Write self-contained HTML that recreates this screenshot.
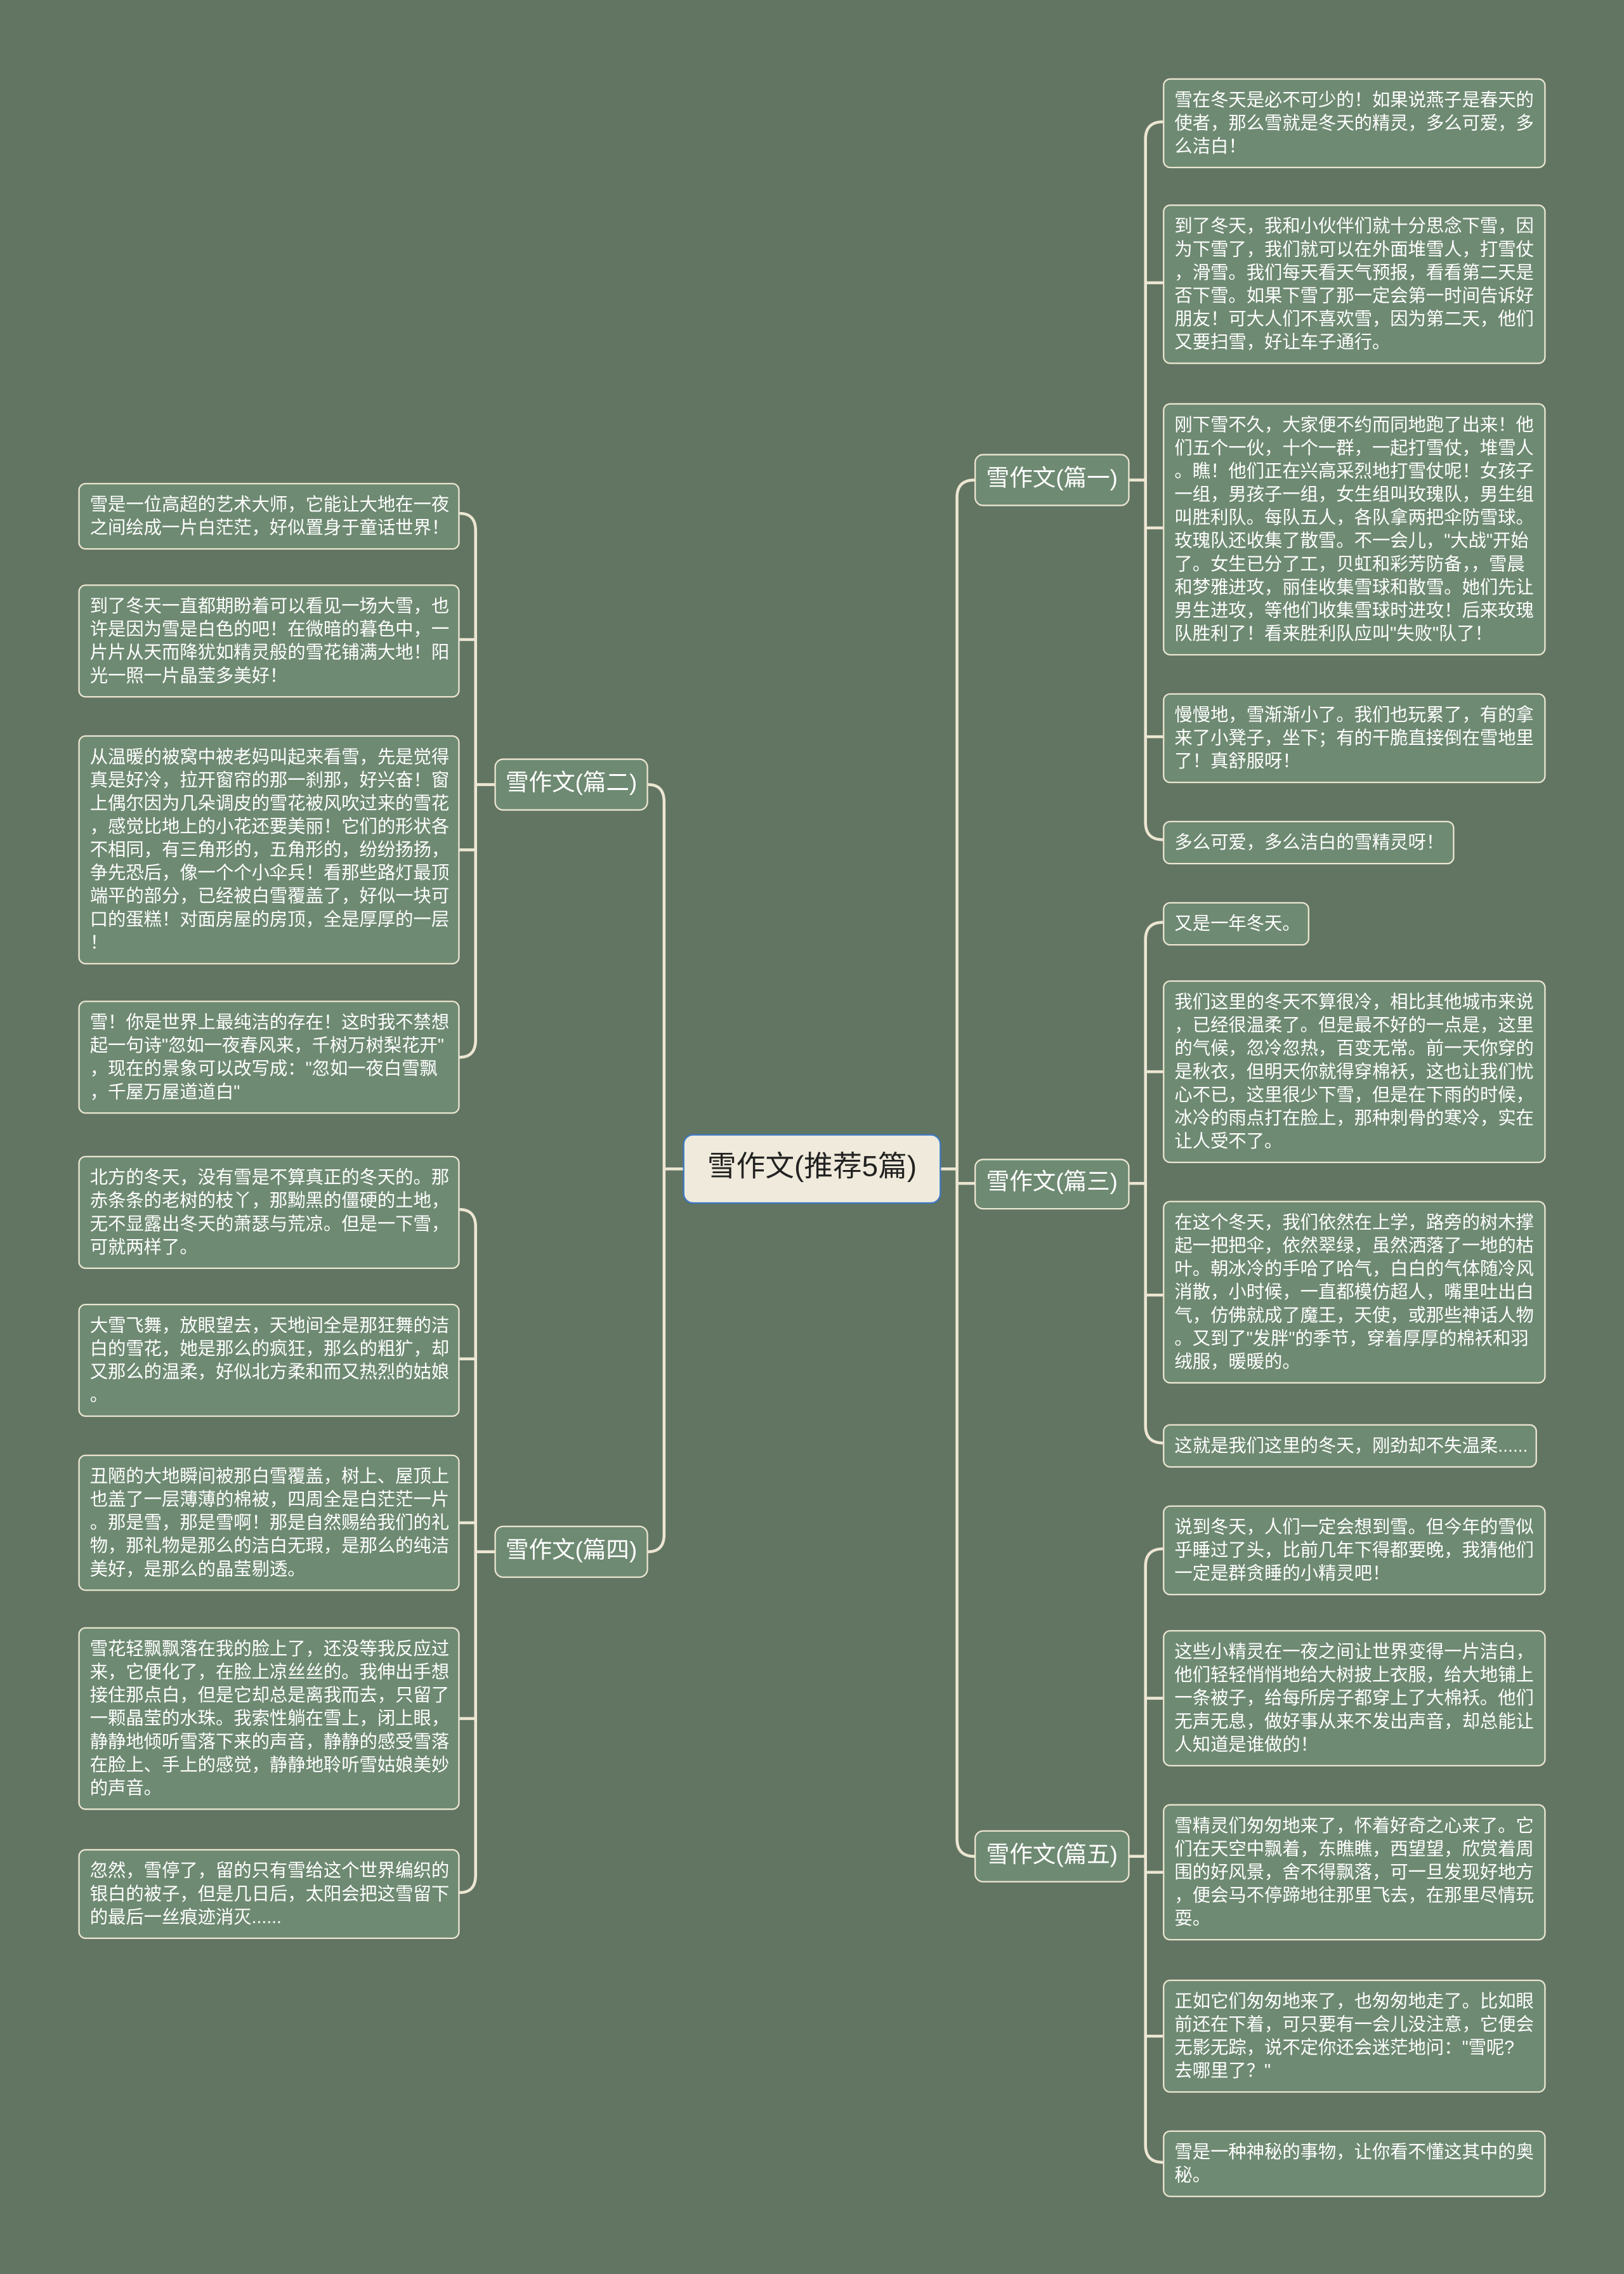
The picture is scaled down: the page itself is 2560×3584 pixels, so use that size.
<!DOCTYPE html>
<html><head><meta charset="utf-8">
<style>
html,body{margin:0;padding:0;background:#627562;}
body{width:2560px;height:3583px;overflow:hidden;position:relative;}
#s{position:absolute;left:0;top:0;width:1120px;height:1568px;transform:scale(2.285714);transform-origin:0 0;font-family:"Liberation Sans","Noto Sans CJK SC",sans-serif;}
.l{position:absolute;background:#6e8a72;border:1px solid #ece6d2;border-radius:5px;color:#fff;font-size:12.4px;line-height:16px;padding:6px 7px 6px 7px;box-sizing:border-box;white-space:nowrap;}
.b{position:absolute;background:#6e8a72;border:1.5px solid #ece6d2;border-radius:6px;color:#fff;font-size:16px;box-sizing:border-box;text-align:center;}
.r{position:absolute;left:471px;top:782px;width:178px;height:48px;background:#efeadb;border:1.5px solid #3b78c4;border-radius:7px;color:#222;font-size:20px;line-height:45px;text-align:center;box-sizing:border-box;}
svg{position:absolute;left:0;top:0;}
</style></head><body><div id="s">
<svg width="1120" height="1568" fill="none" stroke="#ece6d2" stroke-width="2">
<path d="M649,806 L660,806"/>
<path d="M672,331 Q660,331 660,343 L660,1268 Q660,1280 672,1280"/>
<path d="M660,816 L672,816"/>
<path d="M471,806 L458,806"/>
<path d="M447,541 Q458,541 458,553 L458,1058 Q458,1070 447,1070"/>
<path d="M779,331 L790,331 M802,84 Q790,84 790,96 L790,567 Q790,579 802,579 M790,195 L802,195 M790,364 L802,364 M790,508 L802,508"/>
<path d="M779,816 L790,816 M802,636 Q790,636 790,648 L790,983 Q790,995 802,995 M790,739 L802,739 M790,893 L802,893"/>
<path d="M779,1280 L790,1280 M802,1068 Q790,1068 790,1080 L790,1479 Q790,1491 802,1491 M790,1171 L802,1171 M790,1291 L802,1291 M790,1404 L802,1404"/>
<path d="M341,541 L328,541 M317,354 Q328,354 328,366 L328,717 Q328,729 317,729 M328,441 L317,441 M328,586 L317,586"/>
<path d="M341,1070 L328,1070 M317,834 Q328,834 328,846 L328,1293 Q328,1305 317,1305 M328,937 L317,937 M328,1050 L317,1050 M328,1185 L317,1185"/>
</svg>
<div class="r">雪作文(推荐5篇)</div>
<div class="b" style="left:672px;top:313px;width:107px;height:36px;line-height:33px">雪作文(篇一)</div>
<div class="b" style="left:672px;top:799px;width:107px;height:35px;line-height:32px">雪作文(篇三)</div>
<div class="b" style="left:672px;top:1262px;width:107px;height:36px;line-height:33px">雪作文(篇五)</div>
<div class="b" style="left:341px;top:523px;width:106px;height:36px;line-height:33px">雪作文(篇二)</div>
<div class="b" style="left:341px;top:1052px;width:106px;height:36px;line-height:33px">雪作文(篇四)</div>

<div class="l" style="left:802px;top:54px;width:264px">雪在冬天是必不可少的！如果说燕子是春天的<br>使者，那么雪就是冬天的精灵，多么可爱，多<br>么洁白！</div>
<div class="l" style="left:802px;top:141px;width:264px">到了冬天，我和小伙伴们就十分思念下雪，因<br>为下雪了，我们就可以在外面堆雪人，打雪仗<br>，滑雪。我们每天看天气预报，看看第二天是<br>否下雪。如果下雪了那一定会第一时间告诉好<br>朋友！可大人们不喜欢雪，因为第二天，他们<br>又要扫雪，好让车子通行。</div>
<div class="l" style="left:802px;top:278px;width:264px">刚下雪不久，大家便不约而同地跑了出来！他<br>们五个一伙，十个一群，一起打雪仗，堆雪人<br>。瞧！他们正在兴高采烈地打雪仗呢！女孩子<br>一组，男孩子一组，女生组叫玫瑰队，男生组<br>叫胜利队。每队五人，各队拿两把伞防雪球。<br>玫瑰队还收集了散雪。不一会儿，"大战"开始<br>了。女生已分了工，贝虹和彩芳防备，，雪晨<br>和梦雅进攻，丽佳收集雪球和散雪。她们先让<br>男生进攻，等他们收集雪球时进攻！后来玫瑰<br>队胜利了！看来胜利队应叫"失败"队了！</div>
<div class="l" style="left:802px;top:478px;width:264px">慢慢地，雪渐渐小了。我们也玩累了，有的拿<br>来了小凳子，坐下；有的干脆直接倒在雪地里<br>了！真舒服呀！</div>
<div class="l" style="left:802px;top:566px;width:201px">多么可爱，多么洁白的雪精灵呀！</div>

<div class="l" style="left:802px;top:622px;width:101px">又是一年冬天。</div>
<div class="l" style="left:802px;top:676px;width:264px">我们这里的冬天不算很冷，相比其他城市来说<br>，已经很温柔了。但是最不好的一点是，这里<br>的气候，忽冷忽热，百变无常。前一天你穿的<br>是秋衣，但明天你就得穿棉袄，这也让我们忧<br>心不已，这里很少下雪，但是在下雨的时候，<br>冰冷的雨点打在脸上，那种刺骨的寒冷，实在<br>让人受不了。</div>
<div class="l" style="left:802px;top:828px;width:264px">在这个冬天，我们依然在上学，路旁的树木撑<br>起一把把伞，依然翠绿，虽然洒落了一地的枯<br>叶。朝冰冷的手哈了哈气，白白的气体随冷风<br>消散，小时候，一直都模仿超人，嘴里吐出白<br>气，仿佛就成了魔王，天使，或那些神话人物<br>。又到了"发胖"的季节，穿着厚厚的棉袄和羽<br>绒服，暖暖的。</div>
<div class="l" style="left:802px;top:982px;width:258px">这就是我们这里的冬天，刚劲却不失温柔......</div>

<div class="l" style="left:802px;top:1038px;width:264px">说到冬天，人们一定会想到雪。但今年的雪似<br>乎睡过了头，比前几年下得都要晚，我猜他们<br>一定是群贪睡的小精灵吧！</div>
<div class="l" style="left:802px;top:1124px;width:264px">这些小精灵在一夜之间让世界变得一片洁白，<br>他们轻轻悄悄地给大树披上衣服，给大地铺上<br>一条被子，给每所房子都穿上了大棉袄。他们<br>无声无息，做好事从来不发出声音，却总能让<br>人知道是谁做的！</div>
<div class="l" style="left:802px;top:1244px;width:264px">雪精灵们匆匆地来了，怀着好奇之心来了。它<br>们在天空中飘着，东瞧瞧，西望望，欣赏着周<br>围的好风景，舍不得飘落，可一旦发现好地方<br>，便会马不停蹄地往那里飞去，在那里尽情玩<br>耍。</div>
<div class="l" style="left:802px;top:1365px;width:264px">正如它们匆匆地来了，也匆匆地走了。比如眼<br>前还在下着，可只要有一会儿没注意，它便会<br>无影无踪，说不定你还会迷茫地问："雪呢?<br>去哪里了？"</div>
<div class="l" style="left:802px;top:1469px;width:264px">雪是一种神秘的事物，让你看不懂这其中的奥<br>秘。</div>

<div class="l" style="left:54px;top:333px;width:263px">雪是一位高超的艺术大师，它能让大地在一夜<br>之间绘成一片白茫茫，好似置身于童话世界！</div>
<div class="l" style="left:54px;top:403px;width:263px">到了冬天一直都期盼着可以看见一场大雪，也<br>许是因为雪是白色的吧！在微暗的暮色中，一<br>片片从天而降犹如精灵般的雪花铺满大地！阳<br>光一照一片晶莹多美好！</div>
<div class="l" style="left:54px;top:507px;width:263px">从温暖的被窝中被老妈叫起来看雪，先是觉得<br>真是好冷，拉开窗帘的那一刹那，好兴奋！窗<br>上偶尔因为几朵调皮的雪花被风吹过来的雪花<br>，感觉比地上的小花还要美丽！它们的形状各<br>不相同，有三角形的，五角形的，纷纷扬扬，<br>争先恐后，像一个个小伞兵！看那些路灯最顶<br>端平的部分，已经被白雪覆盖了，好似一块可<br>口的蛋糕！对面房屋的房顶，全是厚厚的一层<br>！</div>
<div class="l" style="left:54px;top:690px;width:263px">雪！你是世界上最纯洁的存在！这时我不禁想<br>起一句诗"忽如一夜春风来，千树万树梨花开"<br>，现在的景象可以改写成："忽如一夜白雪飘<br>，千屋万屋道道白"</div>

<div class="l" style="left:54px;top:797px;width:263px">北方的冬天，没有雪是不算真正的冬天的。那<br>赤条条的老树的枝丫，那黝黑的僵硬的土地，<br>无不显露出冬天的萧瑟与荒凉。但是一下雪，<br>可就两样了。</div>
<div class="l" style="left:54px;top:899px;width:263px">大雪飞舞，放眼望去，天地间全是那狂舞的洁<br>白的雪花，她是那么的疯狂，那么的粗犷，却<br>又那么的温柔，好似北方柔和而又热烈的姑娘<br>。</div>
<div class="l" style="left:54px;top:1003px;width:263px">丑陋的大地瞬间被那白雪覆盖，树上、屋顶上<br>也盖了一层薄薄的棉被，四周全是白茫茫一片<br>。那是雪，那是雪啊！那是自然赐给我们的礼<br>物，那礼物是那么的洁白无瑕，是那么的纯洁<br>美好，是那么的晶莹剔透。</div>
<div class="l" style="left:54px;top:1122px;width:263px">雪花轻飘飘落在我的脸上了，还没等我反应过<br>来，它便化了，在脸上凉丝丝的。我伸出手想<br>接住那点白，但是它却总是离我而去，只留了<br>一颗晶莹的水珠。我索性躺在雪上，闭上眼，<br>静静地倾听雪落下来的声音，静静的感受雪落<br>在脸上、手上的感觉，静静地聆听雪姑娘美妙<br>的声音。</div>
<div class="l" style="left:54px;top:1275px;width:263px">忽然，雪停了，留的只有雪给这个世界编织的<br>银白的被子，但是几日后，太阳会把这雪留下<br>的最后一丝痕迹消灭......</div>
</div></body></html>
